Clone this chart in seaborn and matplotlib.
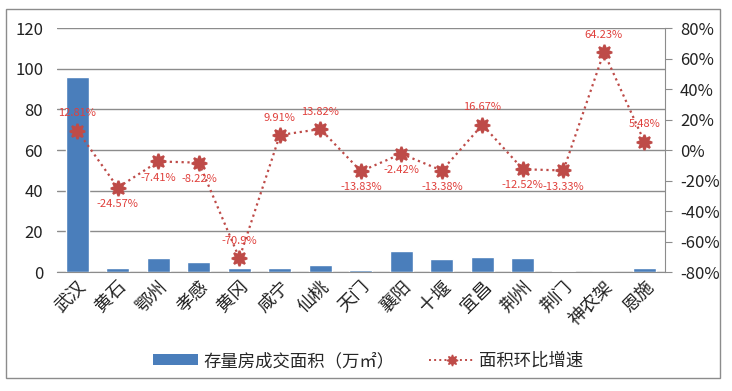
import matplotlib
matplotlib.use('Agg')
import matplotlib.pyplot as plt
import numpy as np
import pandas as pd
import seaborn as sns
from matplotlib.lines import Line2D
from matplotlib.patches import Patch, Rectangle

# Data
cities = ['武汉', '黄石', '鄂州', '孝感', '黄冈', '咸宁', '仙桃', '天门',
          '襄阳', '十堰', '宜昌', '荆州', '荆门', '神农架', '恩施']
area = [96, 2, 7, 5, 2, 2, 3.5, 1.2, 10.5, 6.5, 7.5, 7, 0.7, 0, 2]
growth = [12.81, -24.57, -7.41, -8.22, -70.9, 9.91, 13.82, -13.83,
          -2.42, -13.38, 16.67, -12.52, -13.33, 64.23, 5.48]
growth_labels = ['12.81%', '-24.57%', '-7.41%', '-8.22%', '-70.9%', '9.91%',
                 '13.82%', '-13.83%', '-2.42%', '-13.38%', '16.67%',
                 '-12.52%', '-13.33%', '64.23%', '5.48%']
left_ticks = [0, 20, 40, 60, 80, 100, 120]
right_ticks = [-80, -60, -40, -20, 0, 20, 40, 60, 80]

bar_color = '#4A7EBB'
line_color = '#BE4B48'
text_red = '#E0403C'

sns.set_style('white')
plt.rcParams['font.family'] = ['Noto Sans CJK SC', 'DejaVu Sans']
plt.rcParams['axes.unicode_minus'] = False

df = pd.DataFrame({'city': cities, 'area': area, 'growth': growth})
df['pos'] = np.arange(len(cities))

fig = plt.figure(figsize=(7.32, 3.91), dpi=100)
ax = fig.add_axes([0.078, 0.304, 0.830, 0.624])

# outer frame around whole chart
fig.patches.append(Rectangle((6 / 732, 1 - 378 / 391), 714 / 732, 369 / 391,
                             transform=fig.transFigure, fill=False,
                             edgecolor='#8C8C8C', linewidth=1.0))

sns.barplot(data=df, x='pos', y='area', color=bar_color, width=0.57,
            saturation=1, ax=ax, zorder=2)
ax.set_ylim(0, 120)
ax.set_yticks(left_ticks)
ax.set_xlim(-0.5, len(cities) - 0.5)
ax.set_xticks(df['pos'])
ax.set_xticklabels(cities, rotation=45, ha='right', rotation_mode='anchor',
                   fontsize=13, color='#222222')
ax.tick_params(axis='y', labelsize=12, colors='#222222', length=0, pad=10)
ax.tick_params(axis='x', length=0, pad=4)
ax.yaxis.grid(True, color='#8C8C8C', linewidth=1.0)
ax.set_axisbelow(True)
for s in ['left', 'top', 'right']:
    ax.spines[s].set_visible(False)
ax.spines['bottom'].set_color('#8C8C8C')
ax.set_xlabel('')
ax.set_ylabel('')

ax2 = ax.twinx()
sns.lineplot(data=df, x='pos', y='growth', ax=ax2, color=line_color,
             linestyle=':', linewidth=1.6, marker=(8, 1, 0), markersize=11,
             markeredgewidth=1.5,
             markeredgecolor=line_color, markerfacecolor=line_color)
ax2.set_ylim(-80, 80)
ax2.set_yticks(right_ticks)
ax2.set_yticklabels([f'{t}%' for t in right_ticks])
ax2.tick_params(axis='y', labelsize=12, colors='#222222', length=5,
                color='#8C8C8C', pad=6)
for s in ['left', 'top', 'bottom']:
    ax2.spines[s].set_visible(False)
ax2.spines['right'].set_color('#8C8C8C')
ax2.set_xlabel('')
ax2.set_ylabel('')

# data labels
for i, (v, lab) in enumerate(zip(growth, growth_labels)):
    if v >= 0 or lab == '-70.9%':
        ax2.annotate(lab, (i, v), xytext=(0, 9), textcoords='offset points',
                     ha='center', va='bottom', fontsize=8, color=text_red)
    else:
        ax2.annotate(lab, (i, v), xytext=(0, -8), textcoords='offset points',
                     ha='center', va='top', fontsize=8, color=text_red)

handles = [Patch(facecolor=bar_color, edgecolor='none'),
           Line2D([0], [0], color=line_color, linestyle=':', linewidth=1.4,
                  marker=(8, 1, 0), markersize=8)]
fig.legend(handles, ['存量房成交面积（万㎡）', '面积环比增速'],
           loc='center', bbox_to_anchor=(0.503, 1 - 361 / 391), ncol=2,
           frameon=False, fontsize=12.5, handlelength=2.6, handleheight=0.6,
           handletextpad=0.3, columnspacing=2)

fig.savefig('out.png', dpi=100)
